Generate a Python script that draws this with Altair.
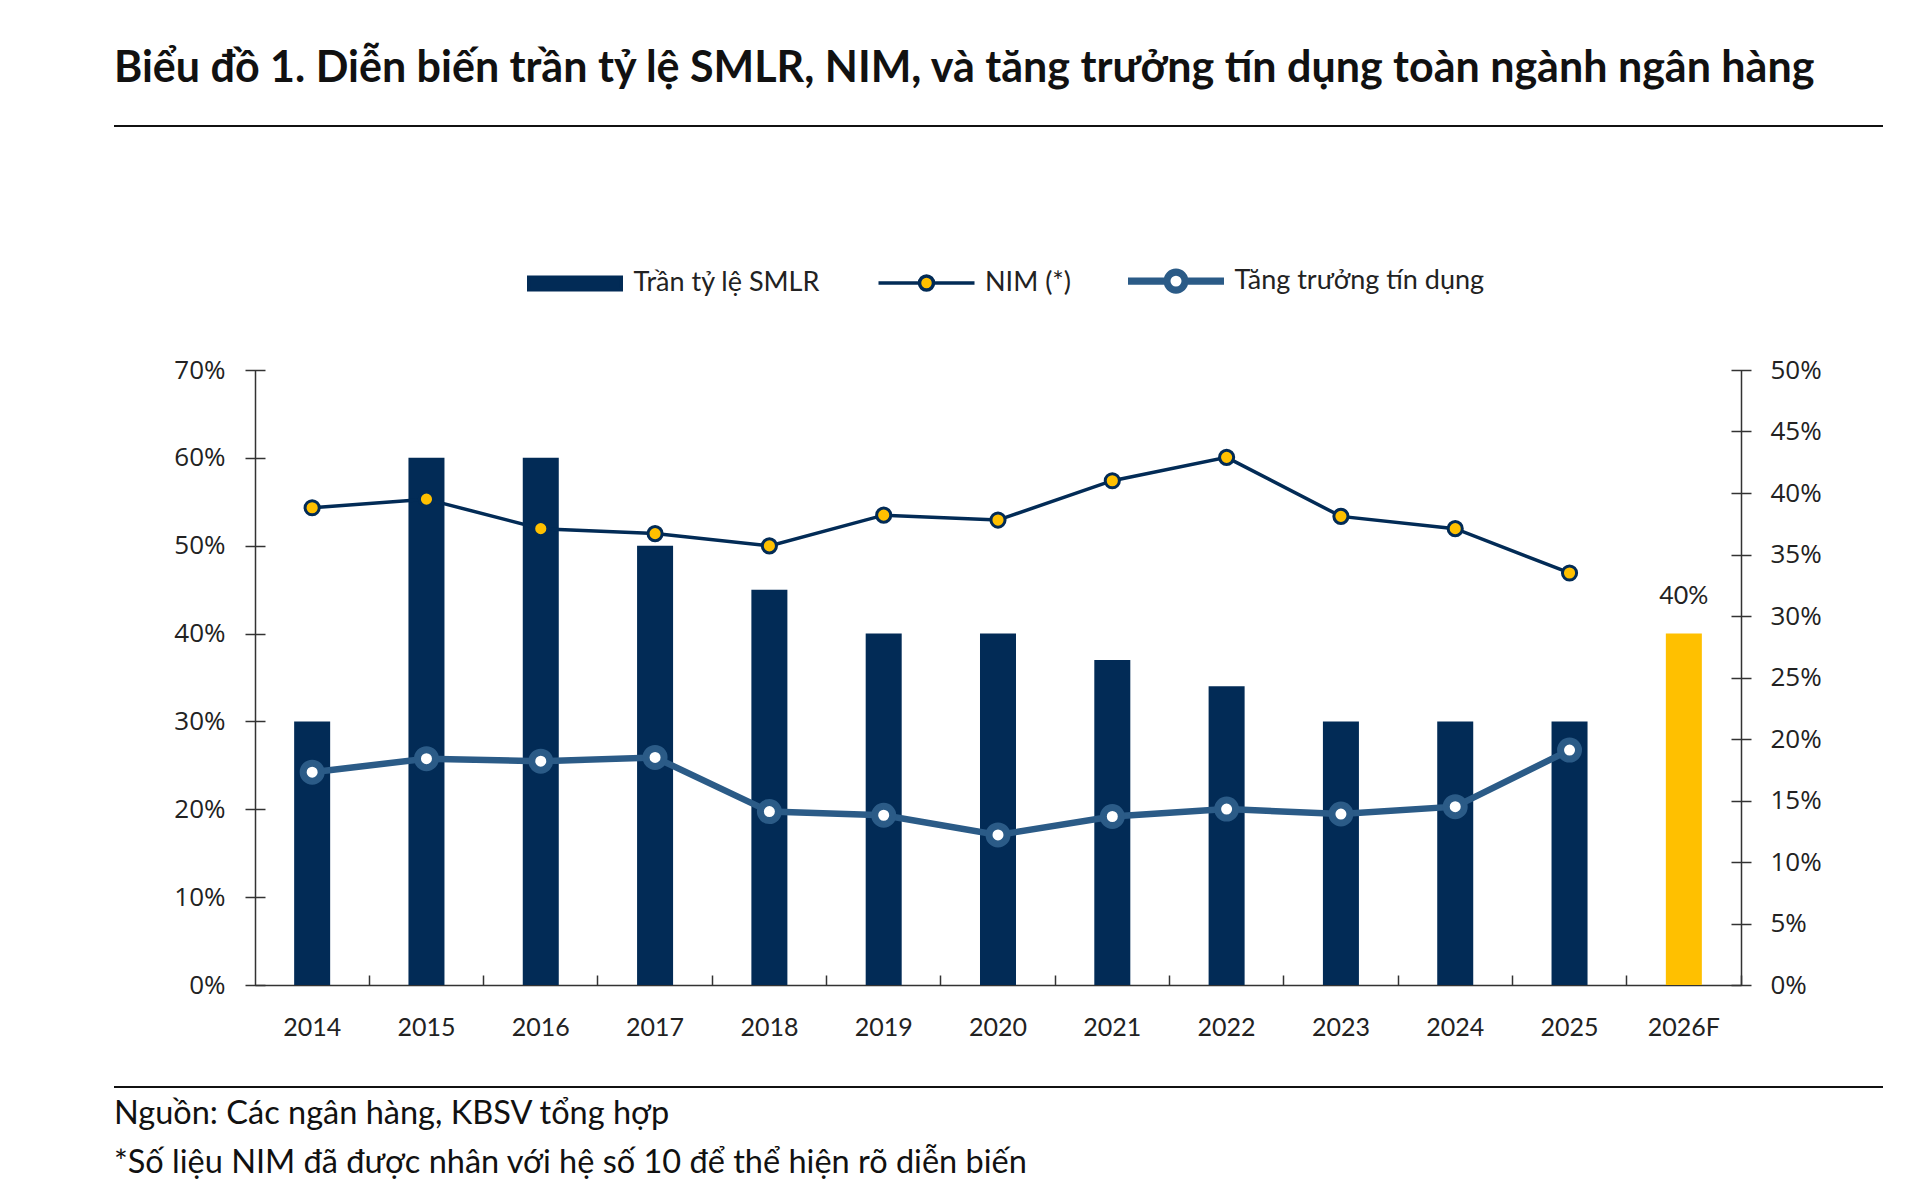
import altair as alt
import pandas as pd

# ---------------- data ----------------
years = ["2014", "2015", "2016", "2017", "2018", "2019", "2020",
         "2021", "2022", "2023", "2024", "2025", "2026F"]
smlr_cap = [30, 60, 60, 50, 45, 40, 40, 37, 34, 30, 30, 30, 40]
line_years = ["2014", "2015", "2016", "2017", "2018", "2019", "2020",
              "2021", "2022", "2023", "2024", "2025"]
nim_x10 = [38.8, 39.5, 37.1, 36.7, 35.7, 38.2, 37.8, 41.0, 42.9, 38.1, 37.1, 33.5]
credit_growth = [17.3, 18.4, 18.2, 18.5, 14.1, 13.8, 12.2, 13.7, 14.3, 13.9, 14.5, 19.1]
series_names = ["Trần tỷ lệ SMLR", "NIM (*)", "Tăng trưởng tín dụng"]
forecast_year = ["2026F"]
left_ticks = [0, 10, 20, 30, 40, 50, 60, 70]
right_ticks = [0, 5, 10, 15, 20, 25, 30, 35, 40, 45, 50]
title_text = "Biểu đồ 1. Diễn biến trần tỷ lệ SMLR, NIM, và tăng trưởng tín dụng toàn ngành ngân hàng"
notes = ["Nguồn: Các ngân hàng, KBSV tổng hợp",
         "*Số liệu NIM đã được nhân với hệ số 10 để thể hiện rõ diễn biến"]

bars_df = pd.DataFrame({"year": years, "smlr": smlr_cap})
lines_df = pd.DataFrame({"year": line_years, "nim": nim_x10, "credit": credit_growth})
legend_df = pd.DataFrame({"series": series_names})
notes_df = pd.DataFrame({"t": ["\n".join(notes)]})
rule_df = pd.DataFrame({"k": [0]})

# ---------------- styles ----------------
NAVY = "#022B56"
STEEL = "#2B5B87"
YELLOW = "#FFC000"
AX = "#333333"
TXT = "#222222"

W, H = 1486, 615
PL, PT = 255, 370

P_IN = 0.685
P_OUT = P_IN / 2
xs = alt.Scale(domain=years, paddingInner=P_IN, paddingOuter=P_OUT)
yl = alt.Scale(domain=[0, 70], nice=False, zero=True)
yr = alt.Scale(domain=[0, 50], nice=False, zero=True)
# tick position between two bands, expressed as a fraction of the band width
boundary_pos = 1 + (P_IN / 2) / (1 - P_IN)

x_axis_main = alt.Axis(title=None, orient="bottom", domain=True, domainColor=AX,
                       domainWidth=1.5, ticks=False, grid=False, labelAngle=0,
                       labelFont="Lato", labelFontSize=25, labelColor=TXT,
                       labelPadding=30)
x_axis_ticks = alt.Axis(title=None, orient="bottom", domain=False, labels=False,
                        ticks=True, bandPosition=boundary_pos, tickSize=10,
                        tickColor=AX, tickWidth=1.5, offset=-10, grid=False)
yl_axis_main = alt.Axis(title=None, orient="left", domain=True, domainColor=AX,
                        domainWidth=1.5, ticks=False, grid=False, values=left_ticks,
                        labelExpr="datum.value + '%'", labelFont="Open Sans",
                        labelFontSize=26, labelColor=TXT, labelPadding=30)
yl_axis_ticks = alt.Axis(title=None, orient="left", domain=False, labels=False,
                         ticks=True, tickSize=20, tickColor=AX, tickWidth=1.5,
                         offset=-10, values=left_ticks, grid=False)
yr_axis_main = alt.Axis(title=None, orient="right", domain=True, domainColor=AX,
                        domainWidth=1.5, ticks=False, grid=False, values=right_ticks,
                        labelExpr="datum.value + '%'", labelFont="Open Sans",
                        labelFontSize=26, labelColor=TXT, labelPadding=29)
yr_axis_ticks = alt.Axis(title=None, orient="right", domain=False, labels=False,
                         ticks=True, tickSize=20, tickColor=AX, tickWidth=1.5,
                         offset=-10, values=right_ticks, grid=False)

# ---------------- layers ----------------
bars = alt.Chart(bars_df).mark_bar().encode(
    x=alt.X("year:N", scale=xs, axis=x_axis_main),
    y=alt.Y("smlr:Q", scale=yl, axis=yl_axis_main),
    color=alt.when(alt.datum.year == forecast_year[0]).then(alt.value(YELLOW)).otherwise(alt.value(NAVY)),
)

fc_label = alt.Chart(bars_df).transform_filter(
    alt.datum.year == forecast_year[0]
).transform_calculate(lbl="datum.smlr + '%'").mark_text(
    font="Lato", fontSize=25, color=TXT, baseline="alphabetic", dy=-30
).encode(
    x=alt.X("year:N", scale=xs, axis=None),
    y=alt.Y("smlr:Q", scale=yl, axis=yl_axis_ticks),
    text="lbl:N",
)

nim_line = alt.Chart(lines_df).mark_line(color=NAVY, strokeWidth=3.5).encode(
    x=alt.X("year:N", scale=xs, axis=None),
    y=alt.Y("nim:Q", scale=yr, axis=yr_axis_main),
)
nim_pts = alt.Chart(lines_df).mark_point(
    filled=True, fill=YELLOW, stroke=NAVY, strokeWidth=3, size=200, opacity=1
).encode(
    x=alt.X("year:N", scale=xs, axis=x_axis_ticks),
    y=alt.Y("nim:Q", scale=yr, axis=yr_axis_ticks),
)
cr_line = alt.Chart(lines_df).mark_line(color=STEEL, strokeWidth=6.5).encode(
    x=alt.X("year:N", scale=xs, axis=None),
    y=alt.Y("credit:Q", scale=yr, axis=None),
)
cr_pts = alt.Chart(lines_df).mark_point(
    filled=True, fill="#FFFFFF", stroke=STEEL, strokeWidth=7, size=324, opacity=1
).encode(
    x=alt.X("year:N", scale=xs, axis=None),
    y=alt.Y("credit:Q", scale=yr, axis=None),
)

# legend symbols (unit square -1..1 == 96 px, uniform stroke width 3.5 px)
def circ(r, sweep):
    return (f"M{-r:.4f},0A{r:.4f},{r:.4f},0,1,{sweep},{r:.4f},0"
            f"A{r:.4f},{r:.4f},0,1,{sweep},{-r:.4f},0Z")

rect_path = "M-0.9635,-0.1302L0.9635,-0.1302L0.9635,0.1302L-0.9635,0.1302Z"
r1 = 0.1458
nim_path = f"M-1,0L{-r1},0M{r1},0L1,0" + circ(r1, 0)
ro, ri, hh = 0.224, 0.151, 0.0365
cr_path = (f"M-0.9635,{-hh}L{-ro},{-hh}L{-ro},{hh}L-0.9635,{hh}Z"
           f"M{ro},{-hh}L0.9635,{-hh}L0.9635,{hh}L{ro},{hh}Z"
           + circ(ro, 0) + circ(ri, 1))
leg = alt.Legend(title=None, orient="none", legendX=270, legendY=-139,
                 direction="horizontal", symbolSize=9216, symbolOpacity=1,
                 symbolStrokeWidth=3.5,
                 labelFont="Lato", labelFontSize=27, labelColor=TXT,
                 labelOffset=8.5, labelLimit=0, columnPadding=50.5, padding=0,
                 symbolOffset=0)
legend_layer = alt.Chart(legend_df).transform_filter("false").mark_point(filled=True).encode(
    shape=alt.Shape("series:N", scale=alt.Scale(domain=series_names,
                    range=[rect_path, nim_path, cr_path]), legend=leg),
    fill=alt.Fill("series:N", scale=alt.Scale(domain=series_names,
                  range=[NAVY, YELLOW, STEEL]), legend=leg),
    stroke=alt.Stroke("series:N", scale=alt.Scale(domain=series_names,
                      range=[NAVY, NAVY, STEEL]), legend=leg),
)

# decorations: rules and footnotes
rule_top = alt.Chart(rule_df).mark_rule(color="#111111", strokeWidth=2).encode(
    x=alt.value(114 - PL), x2=alt.value(1883 - PL), y=alt.value(126 - PT))
rule_bot = alt.Chart(rule_df).mark_rule(color="#111111", strokeWidth=2).encode(
    x=alt.value(114 - PL), x2=alt.value(1883 - PL), y=alt.value(1087 - PT))
footnotes = alt.Chart(notes_df).mark_text(
    align="left", baseline="alphabetic", font="Lato", fontSize=32.5, color="#111111",
    lineBreak="\n", lineHeight=49
).encode(text="t:N", x=alt.value(114 - PL), y=alt.value(1124 - PT))

chart = alt.layer(
    bars, fc_label, nim_line, nim_pts, cr_line, cr_pts, legend_layer,
    rule_top, rule_bot, footnotes
).resolve_scale(
    y="independent"
).resolve_axis(
    x="independent", y="independent"
).properties(
    width=W, height=H,
    autosize=alt.AutoSizeParams(type="none"),
    padding={"left": PL, "top": PT, "right": 1920 - PL - W, "bottom": 1198 - PT - H},
    background="#FFFFFF",
    title=alt.TitleParams(text=title_text, anchor="start", frame="group", dx=114 - PL,
                          font="Lato", fontSize=43, fontWeight="bold", color="#111111",
                          offset=34),
).configure_view(stroke=None)

chart.save("out.html", embed_options={"renderer": "svg", "actions": False})
